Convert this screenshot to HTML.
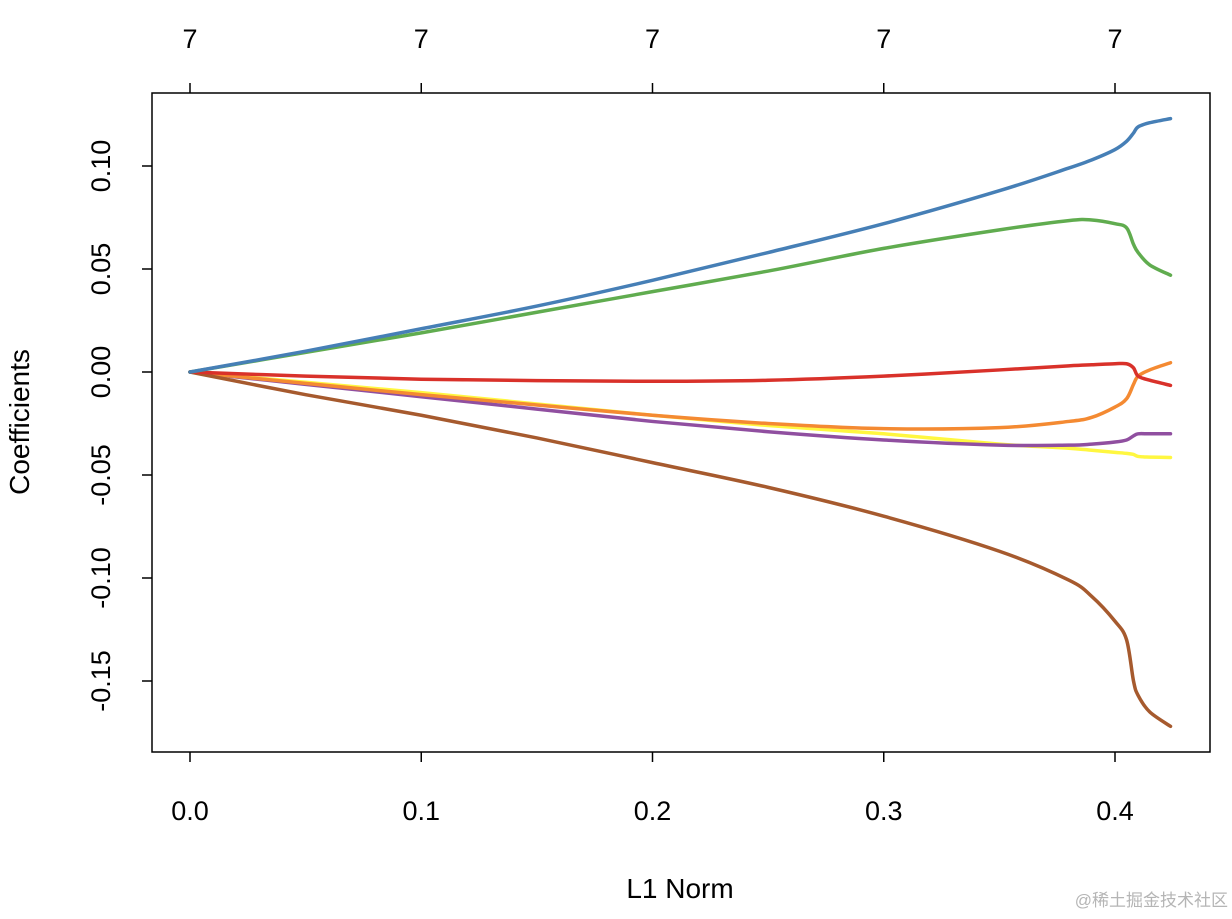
<!DOCTYPE html>
<html><head><meta charset="utf-8"><style>
body{margin:0;background:#fff;}
svg text{font-family:"Liberation Sans",Arial,sans-serif;}
</style></head><body>
<svg id="chart" width="1232" height="914" xmlns="http://www.w3.org/2000/svg">
<rect x="0" y="0" width="1232" height="914" fill="#fff"/>
<rect x="152" y="93" width="1058" height="659" fill="none" stroke="#000" stroke-width="1.5"/>
<g id="marks"></g>
<text x="680" y="898" font-size="28" text-anchor="middle">L1 Norm</text>
<text transform="translate(29,422) rotate(-90)" font-size="28" text-anchor="middle">Coefficients</text>
<text x="1228" y="906" font-size="17" fill="#b5b5b5" text-anchor="end" font-family="'Liberation Sans','Noto Sans CJK SC',sans-serif">@稀土掘金技术社区</text>
</svg>
<script>
const xs = [0,.05,.1,.15,.2,.25,.3,.35,.38,.39,.4,.405,.408,.41,.415,.424];
const blue = [0,.0101,.021,.032,.0445,.058,.072,.088,.099,.103,.108,.112,.116,.119,.121,.123];
const green = [0,.0095,.019,.029,.039,.049,.060,.069,.0735,.0738,.072,.070,.062,.058,.052,.047];
const red = [0,-.002,-.0035,-.0042,-.0045,-.004,-.002,.001,.003,.0035,.004,.004,.002,-.002,-.004,-.0065];
const orange = [0,-.0055,-.011,-.016,-.021,-.025,-.0275,-.027,-.024,-.022,-.017,-.013,-.006,-.002,.001,.0045];
const yellow = [0,-.005,-.010,-.0155,-.021,-.026,-.030,-.035,-.037,-.038,-.039,-.0395,-.040,-.041,-.0413,-.0415];
const purple = [0,-.006,-.012,-.018,-.024,-.029,-.033,-.0355,-.0355,-.035,-.034,-.033,-.031,-.030,-.030,-.030];
const brown = [0,-.011,-.021,-.032,-.044,-.056,-.070,-.087,-.101,-.109,-.121,-.130,-.150,-.157,-.165,-.172];
const xTicks = [0,0.1,0.2,0.3,0.4];
const xTickLabels = ["0.0","0.1","0.2","0.3","0.4"];
const yTicks = [0.10,0.05,0,-0.05,-0.10,-0.15];
const yTickLabels = ["0.10","0.05","0.00","-0.05","-0.10","-0.15"];
const topLabels = ["7","7","7","7","7"];

const sx = v => 190 + v*2312.5;
const sy = v => 372 - v*2060;
const NS = "http://www.w3.org/2000/svg";
const svg = document.getElementById('chart');
const g = document.getElementById('marks');
function mk(tag, attrs, parent){const e=document.createElementNS(NS,tag);for(const k in attrs)e.setAttribute(k,attrs[k]);(parent||svg).appendChild(e);return e;}
function smoothPath(pts){
  let d='M'+pts[0][0]+','+pts[0][1];
  for(let i=0;i<pts.length-1;i++){
    const p0=pts[Math.max(0,i-1)],p1=pts[i],p2=pts[i+1],p3=pts[Math.min(pts.length-1,i+2)];
    const t=0.5/3;
    const c1=[p1[0]+(p2[0]-p0[0])*t,p1[1]+(p2[1]-p0[1])*t];
    const c2=[p2[0]-(p3[0]-p1[0])*t,p2[1]-(p3[1]-p1[1])*t];
    d+=' C'+c1[0]+','+c1[1]+' '+c2[0]+','+c2[1]+' '+p2[0]+','+p2[1];
  }
  return d;
}

const series = [
 ['yellow',yellow,'#fff740'],['purple',purple,'#904fa0'],['orange',orange,'#f48a32'],
 ['brown',brown,'#a65a2e'],['red',red,'#d9312a'],['green',green,'#60ac4f'],['blue',blue,'#467fb6']];
series.forEach(([n,vals,c])=>{
  const pts = vals.map((v,i)=>[sx(xs[i]),sy(v)]);
  const p = mk('path',{d: smoothPath(pts),fill:'none',stroke:c,'stroke-width':3.5,'stroke-linejoin':'round','stroke-linecap':'round'},g);
  
  
});
xTicks.forEach((t,i)=>{
  const l=mk('line',{x1:sx(t),x2:sx(t),y1:752,y2:762,stroke:'#000','stroke-width':1.5});
  
  
  const tx=mk('text',{x:sx(t),y:820,'font-size':27,'text-anchor':'middle'});tx.textContent=xTickLabels[i];
  
  
  const l2=mk('line',{x1:sx(t),x2:sx(t),y1:93,y2:83,stroke:'#000','stroke-width':1.5});
  
  
  const t2=mk('text',{x:sx(t),y:48,'font-size':27,'text-anchor':'middle'});t2.textContent=topLabels[i];
  
  
});
yTicks.forEach((t,i)=>{
  const l=mk('line',{x1:152,x2:142,y1:sy(t),y2:sy(t),stroke:'#000','stroke-width':1.5});
  
  
  const tx=mk('text',{transform:'translate(110,'+sy(t)+') rotate(-90)','font-size':27,'text-anchor':'middle'});tx.textContent=yTickLabels[i];
  
  
});
</script>
</body></html>
